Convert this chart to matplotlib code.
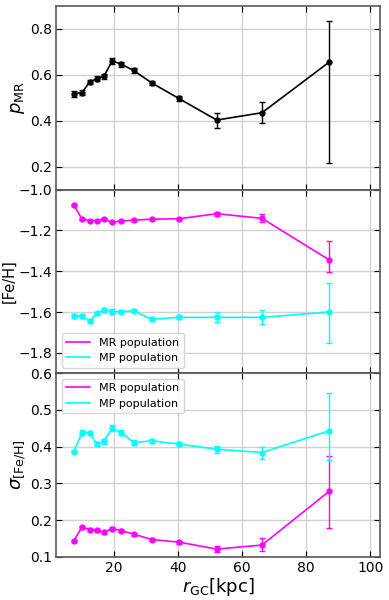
import numpy as np
import matplotlib
matplotlib.use('Agg')
import matplotlib.pyplot as plt
from matplotlib.lines import Line2D

r_gc = [7.5, 10.1, 12.5, 14.7, 16.9, 19.5, 22.4, 26.2, 31.8, 40.3, 52.1, 66.2, 87.1]

p_mr = [0.517, 0.523, 0.569, 0.583, 0.593, 0.661, 0.646, 0.619, 0.565, 0.497, 0.403, 0.435, 0.655]
p_mr_lo = [0.012, 0.012, 0.010, 0.010, 0.010, 0.012, 0.010, 0.010, 0.010, 0.012, 0.033, 0.045, 0.438]
p_mr_hi = [0.012, 0.012, 0.010, 0.010, 0.010, 0.012, 0.010, 0.010, 0.010, 0.012, 0.030, 0.045, 0.180]

feh_mr = [-1.074, -1.145, -1.152, -1.152, -1.145, -1.160, -1.154, -1.150, -1.145, -1.143, -1.118, -1.141, -1.344]
feh_mr_lo = [0.004, 0.004, 0.004, 0.004, 0.004, 0.004, 0.004, 0.004, 0.004, 0.005, 0.010, 0.020, 0.060]
feh_mr_hi = [0.004, 0.004, 0.004, 0.004, 0.004, 0.004, 0.004, 0.004, 0.004, 0.005, 0.010, 0.022, 0.094]
feh_mp = [-1.620, -1.620, -1.646, -1.607, -1.590, -1.598, -1.598, -1.594, -1.636, -1.626, -1.626, -1.626, -1.600]
feh_mp_lo = [0.008, 0.008, 0.010, 0.008, 0.008, 0.012, 0.008, 0.008, 0.010, 0.010, 0.022, 0.035, 0.150]
feh_mp_hi = [0.008, 0.008, 0.010, 0.008, 0.008, 0.012, 0.008, 0.008, 0.010, 0.010, 0.024, 0.035, 0.140]

sig_mr = [0.143, 0.181, 0.174, 0.172, 0.167, 0.177, 0.171, 0.162, 0.147, 0.140, 0.121, 0.132, 0.278]
sig_mr_lo = [0.004, 0.004, 0.004, 0.004, 0.004, 0.004, 0.004, 0.004, 0.004, 0.004, 0.008, 0.016, 0.099]
sig_mr_hi = [0.004, 0.004, 0.004, 0.004, 0.004, 0.004, 0.004, 0.004, 0.004, 0.004, 0.009, 0.020, 0.096]
sig_mp = [0.386, 0.438, 0.437, 0.407, 0.414, 0.450, 0.438, 0.411, 0.416, 0.407, 0.393, 0.384, 0.443]
sig_mp_lo = [0.004, 0.006, 0.006, 0.006, 0.006, 0.008, 0.006, 0.006, 0.006, 0.006, 0.010, 0.017, 0.080]
sig_mp_hi = [0.004, 0.006, 0.006, 0.006, 0.006, 0.008, 0.006, 0.006, 0.006, 0.006, 0.010, 0.015, 0.102]

labels = ['MR population', 'MP population']
colors = ['magenta', 'cyan']

def style_ax(ax):
    ax.grid(True, color='0.82', linewidth=1.0)
    ax.set_axisbelow(True)
    ax.tick_params(direction='in', top=True, right=True, labelsize=10, length=4, pad=3)
    for s in ax.spines.values():
        s.set_color('0.35')
        s.set_linewidth(1.2)
    ax.set_xlim(2, 103)
    ax.set_xticks([20, 40, 60, 80, 100])

def add_legend(ax, loc):
    handles = [Line2D([], [], color=c, linewidth=1.2) for c in colors]
    ax.legend(handles, labels, loc=loc, fontsize=8, handlelength=2.2)

fig = plt.figure(figsize=(3.89, 6.0), dpi=100)
gs = fig.add_gridspec(3, 1, left=0.144, right=0.977, top=0.99, bottom=0.072, hspace=0)
ax1 = fig.add_subplot(gs[0])
ax2 = fig.add_subplot(gs[1], sharex=ax1)
ax3 = fig.add_subplot(gs[2], sharex=ax1)

eb = dict(marker='o', markersize=3.5, capsize=2.5, linewidth=1.2, elinewidth=1.0, capthick=1.0)

ax1.errorbar(r_gc, p_mr, yerr=[p_mr_lo, p_mr_hi], color='black', **eb)
ax1.set_ylim(0.1, 0.9)
ax1.set_yticks([0.2, 0.4, 0.6, 0.8])
ax1.set_ylabel(r'$p_{\rm MR}$', fontsize=13, labelpad=2)

ax2.errorbar(r_gc, feh_mr, yerr=[feh_mr_lo, feh_mr_hi], color=colors[0], **eb)
ax2.errorbar(r_gc, feh_mp, yerr=[feh_mp_lo, feh_mp_hi], color=colors[1], **eb)
ax2.set_ylim(-1.9, -1.0)
ax2.set_yticks([-1.8, -1.6, -1.4, -1.2, -1.0])
ax2.set_ylabel('[Fe/H]', fontsize=10.5, labelpad=1)
add_legend(ax2, 'lower left')

ax3.errorbar(r_gc, sig_mr, yerr=[sig_mr_lo, sig_mr_hi], color=colors[0], **eb)
ax3.errorbar(r_gc, sig_mp, yerr=[sig_mp_lo, sig_mp_hi], color=colors[1], **eb)
ax3.set_ylim(0.1, 0.6)
ax3.set_yticks([0.1, 0.2, 0.3, 0.4, 0.5, 0.6])
ax3.set_ylabel(r'$\sigma_{\rm [Fe/H]}$', fontsize=13, labelpad=2)
ax3.set_xlabel(r'$r_{\rm GC}$[kpc]', fontsize=13, labelpad=1)
add_legend(ax3, 'upper left')

for ax in (ax1, ax2, ax3):
    style_ax(ax)
ax1.tick_params(labelbottom=False)
ax2.tick_params(labelbottom=False)

fig.savefig('out.png', dpi=100)
